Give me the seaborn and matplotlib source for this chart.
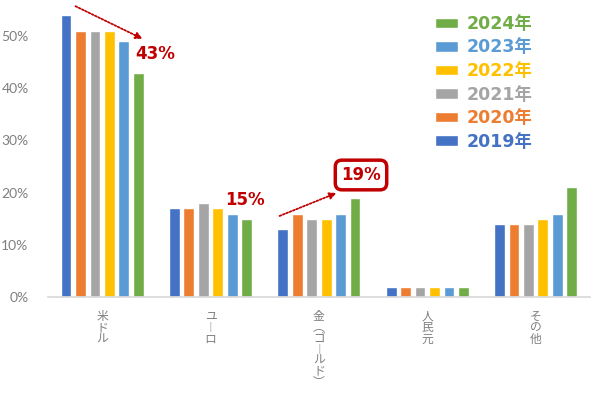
import matplotlib
matplotlib.use("Agg")
import matplotlib.pyplot as plt
import seaborn as sns
import pandas as pd
from matplotlib.patches import Patch

categories = ["米ドル", "ユーロ", "金（ゴールド）", "人民元", "その他"]
cat_vertical = ["米\nド\nル", "ユ\n︱\nロ", "金\n︵\nゴ\n︱\nル\nド\n︶", "人\n民\n元", "そ\nの\n他"]
years = ["2019年", "2020年", "2021年", "2022年", "2023年", "2024年"]
values = {
    "2019年": [54, 17, 13, 2, 14],
    "2020年": [51, 17, 16, 2, 14],
    "2021年": [51, 18, 15, 2, 14],
    "2022年": [51, 17, 15, 2, 15],
    "2023年": [49, 16, 16, 2, 16],
    "2024年": [43, 15, 19, 2, 21],
}
colors = ["#4472C4", "#ED7D31", "#A5A5A5", "#FFC000", "#5B9BD5", "#70AD47"]
yticks = [0, 10, 20, 30, 40, 50]

rows = []
for y in years:
    for c, v in zip(categories, values[y]):
        rows.append({"cat": c, "year": y, "val": v})
df = pd.DataFrame(rows)

sns.set_theme(style="white")
plt.rcParams["font.family"] = ["DejaVu Sans", "Noto Sans CJK JP"]

fig = plt.figure(figsize=(6, 3.94), dpi=100)
ax = fig.add_axes([0.08, 0.246, 0.903, 0.729])
sns.barplot(data=df, x="cat", y="val", hue="year", order=categories,
            hue_order=years, palette=colors, width=0.8, gap=0.25,
            legend=False, ax=ax, saturation=1)

ax.set_xlim(-0.5, 4.5)
ax.set_ylim(0, 55)
ax.set_yticks(yticks)
ax.set_yticklabels([f"{t}%" for t in yticks], fontfamily="Lato",
                   fontsize=10, color="#7f7f7f")
ax.set_xticks(range(len(categories)))
labels = ax.set_xticklabels(cat_vertical, fontfamily="Noto Sans CJK JP",
                            fontsize=8.5, color="#7f7f7f", linespacing=0.88,
                            va="top")
labels[2].set_linespacing(0.8)
ax.tick_params(axis="y", length=0, pad=14)
ax.tick_params(axis="x", length=0, pad=9)
ax.set_xlabel("")
ax.set_ylabel("")
for s in ["top", "right", "left"]:
    ax.spines[s].set_visible(False)
ax.spines["bottom"].set_color("#d9d9d9")
ax.grid(False)

dark_red = "#C00000"
# legend (reversed)
handles = [Patch(facecolor=c) for c in colors[::-1]]
leg = ax.legend(handles, years[::-1], loc="upper left",
                bbox_to_anchor=(428 / 600, 1 - 8 / 394),
                bbox_transform=fig.transFigure, frameon=False,
                handlelength=1.3, handleheight=0.55, handletextpad=0.55,
                labelspacing=0.32, borderaxespad=0,
                prop={"weight": "bold", "size": 12.5,
                      "family": ["DejaVu Sans", "Noto Sans CJK JP"]},
                labelcolor=colors[::-1])

# annotations
arrow = dict(arrowstyle="-|>", linestyle=(0, (1, 1)), color=dark_red,
             lw=1.3, mutation_scale=10)
ax.annotate("", xy=(145, 394 - 40), xytext=(73, 394 - 5),
            xycoords="figure pixels", textcoords="figure pixels",
            arrowprops=arrow, annotation_clip=False)
ax.annotate("", xy=(339, 394 - 192), xytext=(277, 394 - 217),
            xycoords="figure pixels", textcoords="figure pixels",
            arrowprops=arrow, annotation_clip=False)
fig.text(155 / 600, 1 - 54 / 394, "43%", color=dark_red, fontsize=12,
         fontweight="bold", ha="center", va="center")
fig.text(245 / 600, 1 - 200 / 394, "15%", color=dark_red, fontsize=12,
         fontweight="bold", ha="center", va="center")
fig.text(361 / 600, 1 - 175 / 394, "19%", color=dark_red, fontsize=12,
         fontweight="bold", ha="center", va="center",
         bbox=dict(boxstyle="round,pad=0.35,rounding_size=0.4", fc="white",
                   ec=dark_red, lw=2.5))

fig.savefig("out.png", dpi=100)
